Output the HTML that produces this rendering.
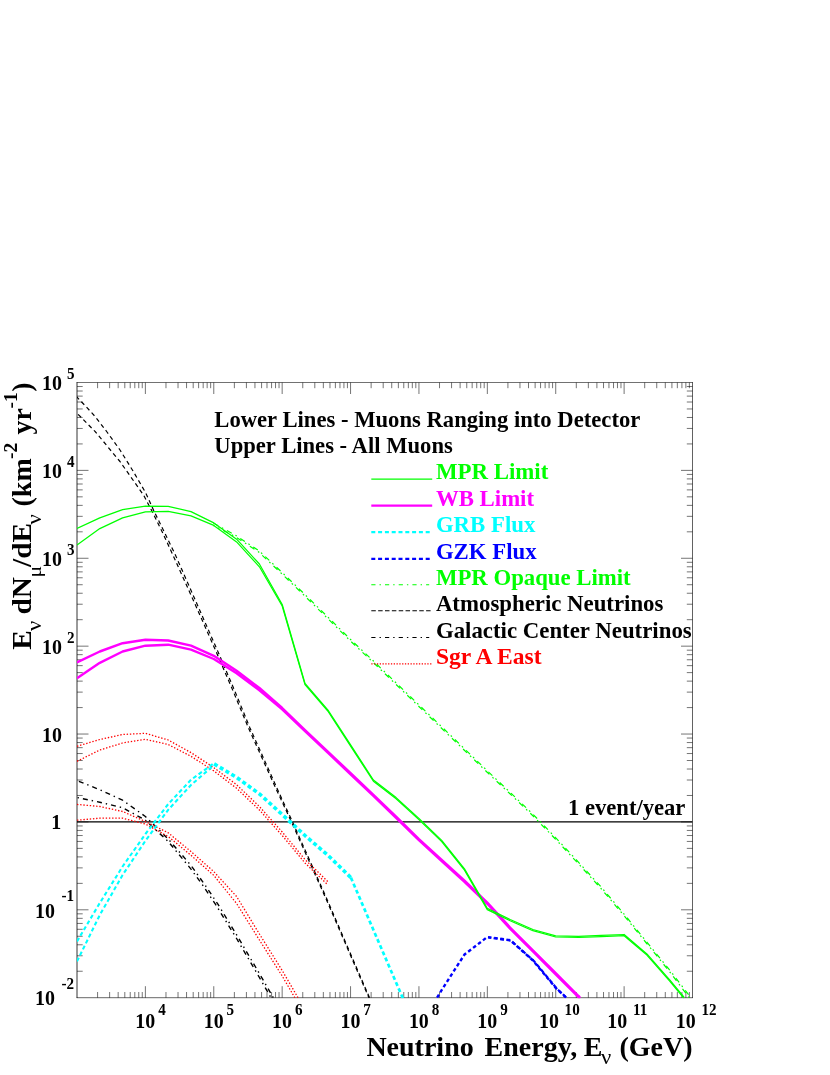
<!DOCTYPE html>
<html><head><meta charset="utf-8"><title>Neutrino flux</title>
<style>html,body{margin:0;padding:0;background:#fff;font-family:"Liberation Serif",serif}body{width:830px;height:1075px;position:relative;overflow:hidden}</style></head>
<body>
<svg width="830" height="1075" viewBox="0 0 830 1075" style="display:block;position:absolute;left:0;top:0;will-change:transform">
<rect width="830" height="1075" fill="#fff"/>
<defs><clipPath id="cp"><rect x="77.0" y="380.5" width="615.5" height="617.8000000000001"/></clipPath></defs>
<path d="M97.59,997.7v-5.7M97.59,382.5v5.7M109.63,997.7v-5.7M109.63,382.5v5.7M118.17,997.7v-5.7M118.17,382.5v5.7M124.80,997.7v-5.7M124.80,382.5v5.7M130.22,997.7v-5.7M130.22,382.5v5.7M134.80,997.7v-5.7M134.80,382.5v5.7M138.76,997.7v-5.7M138.76,382.5v5.7M142.26,997.7v-5.7M142.26,382.5v5.7M145.39,997.7v-11.5M145.39,382.5v11.5M165.98,997.7v-5.7M165.98,382.5v5.7M178.02,997.7v-5.7M178.02,382.5v5.7M186.56,997.7v-5.7M186.56,382.5v5.7M193.19,997.7v-5.7M193.19,382.5v5.7M198.61,997.7v-5.7M198.61,382.5v5.7M203.18,997.7v-5.7M203.18,382.5v5.7M207.15,997.7v-5.7M207.15,382.5v5.7M210.65,997.7v-5.7M210.65,382.5v5.7M213.78,997.7v-11.5M213.78,382.5v11.5M234.36,997.7v-5.7M234.36,382.5v5.7M246.41,997.7v-5.7M246.41,382.5v5.7M254.95,997.7v-5.7M254.95,382.5v5.7M261.58,997.7v-5.7M261.58,382.5v5.7M266.99,997.7v-5.7M266.99,382.5v5.7M271.57,997.7v-5.7M271.57,382.5v5.7M275.54,997.7v-5.7M275.54,382.5v5.7M279.04,997.7v-5.7M279.04,382.5v5.7M282.17,997.7v-11.5M282.17,382.5v11.5M302.75,997.7v-5.7M302.75,382.5v5.7M314.80,997.7v-5.7M314.80,382.5v5.7M323.34,997.7v-5.7M323.34,382.5v5.7M329.97,997.7v-5.7M329.97,382.5v5.7M335.38,997.7v-5.7M335.38,382.5v5.7M339.96,997.7v-5.7M339.96,382.5v5.7M343.93,997.7v-5.7M343.93,382.5v5.7M347.43,997.7v-5.7M347.43,382.5v5.7M350.56,997.7v-11.5M350.56,382.5v11.5M371.14,997.7v-5.7M371.14,382.5v5.7M383.19,997.7v-5.7M383.19,382.5v5.7M391.73,997.7v-5.7M391.73,382.5v5.7M398.36,997.7v-5.7M398.36,382.5v5.7M403.77,997.7v-5.7M403.77,382.5v5.7M408.35,997.7v-5.7M408.35,382.5v5.7M412.32,997.7v-5.7M412.32,382.5v5.7M415.82,997.7v-5.7M415.82,382.5v5.7M418.94,997.7v-11.5M418.94,382.5v11.5M439.53,997.7v-5.7M439.53,382.5v5.7M451.57,997.7v-5.7M451.57,382.5v5.7M460.12,997.7v-5.7M460.12,382.5v5.7M466.75,997.7v-5.7M466.75,382.5v5.7M472.16,997.7v-5.7M472.16,382.5v5.7M476.74,997.7v-5.7M476.74,382.5v5.7M480.71,997.7v-5.7M480.71,382.5v5.7M484.20,997.7v-5.7M484.20,382.5v5.7M487.33,997.7v-11.5M487.33,382.5v11.5M507.92,997.7v-5.7M507.92,382.5v5.7M519.96,997.7v-5.7M519.96,382.5v5.7M528.51,997.7v-5.7M528.51,382.5v5.7M535.14,997.7v-5.7M535.14,382.5v5.7M540.55,997.7v-5.7M540.55,382.5v5.7M545.13,997.7v-5.7M545.13,382.5v5.7M549.09,997.7v-5.7M549.09,382.5v5.7M552.59,997.7v-5.7M552.59,382.5v5.7M555.72,997.7v-11.5M555.72,382.5v11.5M576.31,997.7v-5.7M576.31,382.5v5.7M588.35,997.7v-5.7M588.35,382.5v5.7M596.90,997.7v-5.7M596.90,382.5v5.7M603.52,997.7v-5.7M603.52,382.5v5.7M608.94,997.7v-5.7M608.94,382.5v5.7M613.52,997.7v-5.7M613.52,382.5v5.7M617.48,997.7v-5.7M617.48,382.5v5.7M620.98,997.7v-5.7M620.98,382.5v5.7M624.11,997.7v-11.5M624.11,382.5v11.5M644.70,997.7v-5.7M644.70,382.5v5.7M656.74,997.7v-5.7M656.74,382.5v5.7M665.29,997.7v-5.7M665.29,382.5v5.7M671.91,997.7v-5.7M671.91,382.5v5.7M677.33,997.7v-5.7M677.33,382.5v5.7M681.91,997.7v-5.7M681.91,382.5v5.7M685.87,997.7v-5.7M685.87,382.5v5.7M689.37,997.7v-5.7M689.37,382.5v5.7M77.0,971.24h5.7M692.5,971.24h-5.7M77.0,955.77h5.7M692.5,955.77h-5.7M77.0,944.79h5.7M692.5,944.79h-5.7M77.0,936.27h5.7M692.5,936.27h-5.7M77.0,929.31h5.7M692.5,929.31h-5.7M77.0,923.43h5.7M692.5,923.43h-5.7M77.0,918.33h5.7M692.5,918.33h-5.7M77.0,913.84h5.7M692.5,913.84h-5.7M77.0,909.81h11.5M692.5,909.81h-11.5M77.0,883.36h5.7M692.5,883.36h-5.7M77.0,867.88h5.7M692.5,867.88h-5.7M77.0,856.90h5.7M692.5,856.90h-5.7M77.0,848.38h5.7M692.5,848.38h-5.7M77.0,841.43h5.7M692.5,841.43h-5.7M77.0,835.54h5.7M692.5,835.54h-5.7M77.0,830.45h5.7M692.5,830.45h-5.7M77.0,825.95h5.7M692.5,825.95h-5.7M77.0,821.93h11.5M692.5,821.93h-11.5M77.0,795.47h5.7M692.5,795.47h-5.7M77.0,780.00h5.7M692.5,780.00h-5.7M77.0,769.02h5.7M692.5,769.02h-5.7M77.0,760.50h5.7M692.5,760.50h-5.7M77.0,753.54h5.7M692.5,753.54h-5.7M77.0,747.66h5.7M692.5,747.66h-5.7M77.0,742.56h5.7M692.5,742.56h-5.7M77.0,738.06h5.7M692.5,738.06h-5.7M77.0,734.04h11.5M692.5,734.04h-11.5M77.0,707.59h5.7M692.5,707.59h-5.7M77.0,692.11h5.7M692.5,692.11h-5.7M77.0,681.13h5.7M692.5,681.13h-5.7M77.0,672.61h5.7M692.5,672.61h-5.7M77.0,665.65h5.7M692.5,665.65h-5.7M77.0,659.77h5.7M692.5,659.77h-5.7M77.0,654.67h5.7M692.5,654.67h-5.7M77.0,650.18h5.7M692.5,650.18h-5.7M77.0,646.16h11.5M692.5,646.16h-11.5M77.0,619.70h5.7M692.5,619.70h-5.7M77.0,604.23h5.7M692.5,604.23h-5.7M77.0,593.24h5.7M692.5,593.24h-5.7M77.0,584.73h5.7M692.5,584.73h-5.7M77.0,577.77h5.7M692.5,577.77h-5.7M77.0,571.89h5.7M692.5,571.89h-5.7M77.0,566.79h5.7M692.5,566.79h-5.7M77.0,562.29h5.7M692.5,562.29h-5.7M77.0,558.27h11.5M692.5,558.27h-11.5M77.0,531.82h5.7M692.5,531.82h-5.7M77.0,516.34h5.7M692.5,516.34h-5.7M77.0,505.36h5.7M692.5,505.36h-5.7M77.0,496.84h5.7M692.5,496.84h-5.7M77.0,489.88h5.7M692.5,489.88h-5.7M77.0,484.00h5.7M692.5,484.00h-5.7M77.0,478.90h5.7M692.5,478.90h-5.7M77.0,474.41h5.7M692.5,474.41h-5.7M77.0,470.39h11.5M692.5,470.39h-11.5M77.0,443.93h5.7M692.5,443.93h-5.7M77.0,428.45h5.7M692.5,428.45h-5.7M77.0,417.47h5.7M692.5,417.47h-5.7M77.0,408.96h5.7M692.5,408.96h-5.7M77.0,402.00h5.7M692.5,402.00h-5.7M77.0,396.11h5.7M692.5,396.11h-5.7M77.0,391.02h5.7M692.5,391.02h-5.7M77.0,386.52h5.7M692.5,386.52h-5.7" stroke="#000" stroke-width="0.55" fill="none"/>
<path d="M76.7,382.5H692.8" stroke="#000" stroke-width="0.56" fill="none"/>
<path d="M76.7,997.7H692.8" stroke="#000" stroke-width="0.6" fill="none"/>
<path d="M77.0,382.2V998.0" stroke="#000" stroke-width="0.8" fill="none"/>
<path d="M692.5,382.2V998.0" stroke="#000" stroke-width="0.62" fill="none"/>
<g clip-path="url(#cp)" fill="none" stroke-linejoin="round">
<path d="M77.0,821.9H692.5" stroke="#000" stroke-width="1.1"/>
<polyline points="213.4,523.0 236.3,535.8 259.1,550.8 281.9,572.3 304.7,594.3 327.6,616.8 350.4,639.3 373.2,660.8 396.0,682.8 418.8,704.8 441.7,726.8 464.5,748.8 487.3,770.8 510.1,792.3 533.0,814.3 555.8,837.8 578.6,862.3 601.4,887.3 624.3,914.3 647.1,942.3 669.9,970.3 690.3,997.0" stroke="#00ff00" stroke-width="1.2" stroke-dasharray="5.5 4.2 1.6 4.2" stroke-dashoffset="0"/>
<polyline points="213.4,525.4 235.9,537.0 258.7,552.0 281.5,573.5 304.3,595.5 327.2,618.0 350.0,640.5 372.8,662.0 395.6,684.0 418.4,706.0 441.3,728.0 464.1,750.0 486.9,772.0 509.7,793.5 532.6,815.5 555.4,839.0 578.2,863.5 601.0,888.5 623.9,915.5 646.7,943.5 669.5,971.5 689.2,997.7" stroke="#00ff00" stroke-width="1.2" stroke-dasharray="5.5 4.2 1.6 4.2" stroke-dashoffset="4.5"/>
<polyline points="369.5,997.7 326.0,897.0 293.0,823.0 278.0,790.5 250.0,728.0 234.8,691.0 218.4,652.7 197.0,604.0 175.4,555.0 164.5,532.5 154.2,511.6 145.7,492.8 132.4,470.0 120.0,450.0 107.0,432.0 95.0,416.4 86.0,406.5 76.8,397.0" stroke="#000" stroke-width="1.2" stroke-dasharray="4.2 3.3" stroke-dashoffset="0"/>
<polyline points="368.9,997.7 325.2,897.0 292.0,823.0 276.8,790.5 248.5,728.0 233.1,691.0 216.6,652.7 195.0,604.0 172.9,555.0 162.5,532.5 152.2,511.6 143.7,495.3 120.0,461.5 95.0,431.4 76.8,413.0" stroke="#000" stroke-width="1.2" stroke-dasharray="4.2 3.3" stroke-dashoffset="1.6"/>
<polyline points="77.0,780.6 99.8,789.7 122.6,800.2 145.4,816.5 168.2,839.0 191.0,865.4 205.3,885.4 217.9,904.2 236.6,934.8 259.4,973.6 273.3,997.7" stroke="#000" stroke-width="1.4" stroke-dasharray="5 4 1.4 4" stroke-dashoffset="-2"/>
<polyline points="77.0,797.5 99.8,802.2 122.6,807.7 145.4,820.2 168.2,841.5 191.0,869.1 202.8,885.4 215.4,904.2 236.6,938.5 259.4,977.5 271.0,997.7" stroke="#000" stroke-width="1.4" stroke-dasharray="5 4 1.4 4" stroke-dashoffset="-6"/>
<polyline points="77.0,746.3 99.8,739.5 122.6,734.5 145.4,733.3 168.2,740.0 191.0,752.6 213.8,767.6 236.6,784.7 259.4,806.5 282.2,832.0 305.0,859.5 327.8,881.5" stroke="#ff0000" stroke-width="1.3" stroke-dasharray="1.4 1.8" stroke-dashoffset="0"/>
<polyline points="77.0,761.3 99.8,750.0 122.6,743.0 145.4,739.3 168.2,744.5 191.0,756.3 213.8,770.9 236.6,788.3 259.4,810.0 282.2,835.5 305.0,863.0 327.8,884.8" stroke="#ff0000" stroke-width="1.3" stroke-dasharray="1.4 1.8" stroke-dashoffset="0"/>
<polyline points="77.0,804.4 99.8,806.5 122.6,811.5 145.4,821.5 168.2,832.8 191.0,851.6 213.8,871.6 236.6,896.5 259.4,934.0 282.2,970.5 298.0,997.7" stroke="#ff0000" stroke-width="1.3" stroke-dasharray="1.4 1.8" stroke-dashoffset="0"/>
<polyline points="77.0,820.2 99.8,818.2 122.6,818.2 145.4,824.0 168.2,836.5 191.0,855.3 213.8,875.4 236.6,903.5 259.4,940.0 282.2,976.0 294.8,997.7" stroke="#ff0000" stroke-width="1.3" stroke-dasharray="1.4 1.8" stroke-dashoffset="0"/>
<polyline points="77.0,941.4 99.8,903.0 122.6,866.5 145.4,834.0 168.2,804.1 191.0,779.8 213.8,763.3" stroke="#00ffff" stroke-width="2.1" stroke-dasharray="4 2.7" stroke-dashoffset="0"/>
<polyline points="77.0,961.4 99.8,915.0 122.6,875.0 145.4,840.8 168.2,809.8 191.0,785.0 213.8,765.3" stroke="#00ffff" stroke-width="2.1" stroke-dasharray="4 2.7" stroke-dashoffset="0"/>
<polyline points="214.1,763.9 236.9,777.6 259.7,794.1 282.5,814.8 305.3,835.8 328.1,855.4 350.9,877.6" stroke="#00ffff" stroke-width="3.6" stroke-dasharray="4 2.7" stroke-dashoffset="0"/>
<polyline points="350.9,877.6 373.7,930.6 396.4,983.3 402.9,998.3" stroke="#00ffff" stroke-width="2.7" stroke-dasharray="4 2.7" stroke-dashoffset="0"/>
<polyline points="437.1,997.7 441.7,990.0 464.5,954.5 487.3,937.0 510.1,940.1 533.0,960.5 555.8,988.0 566.2,997.7" stroke="#0000ff" stroke-width="2.4" stroke-dasharray="3.6 2.6" stroke-dashoffset="0"/>
<polyline points="488.2,937.5 511.0,940.6 533.9,961.0 556.7,988.5 567.1,998.2" stroke="#0000ff" stroke-width="2.2" stroke-dasharray="4 2.6" stroke-dashoffset="1.2"/>
<polyline points="77.0,662.3 99.8,651.5 122.6,643.2 145.4,639.7 168.2,640.5 191.0,645.7 213.8,655.8 236.6,670.8 259.4,688.0 282.2,708.0 305.0,730.0 327.8,751.5 350.6,773.2 373.4,794.9 396.1,816.6 418.9,839.1 441.7,859.9 464.5,880.6 487.3,902.6 510.1,927.5 532.9,950.4 555.7,973.2 578.5,996.0 580.0,997.4" stroke="#ff00ff" stroke-width="2.4"/>
<polyline points="77.0,678.3 99.8,662.8 122.6,651.5 145.4,645.7 168.2,644.7 191.0,649.7 213.8,659.0 236.6,673.3 259.4,690.3 282.2,709.3 305.0,731.2 327.8,752.6 350.6,774.4 373.4,796.0 396.1,817.8 418.9,840.2 441.7,861.0 464.5,881.8 487.3,903.8 510.1,928.6 532.9,951.5 555.7,974.4 578.5,997.1 580.0,998.5" stroke="#ff00ff" stroke-width="2.4"/>
<polyline points="77.0,528.4 99.8,517.9 122.6,509.6 145.4,506.1 168.2,506.3 191.0,511.6 213.8,522.9 236.6,539.2 259.4,564.0 282.2,604.5 305.0,683.5 327.8,709.8 350.6,744.9 373.4,780.0 396.1,797.6 418.9,818.4 441.7,840.4 464.5,868.9 487.3,908.4 510.1,919.5 532.9,929.5 555.7,935.8 578.5,936.3 601.3,935.4 624.1,934.5 646.9,953.9 669.7,979.9 684.0,997.1" stroke="#00ff00" stroke-width="1.25"/>
<polyline points="77.0,545.0 99.8,528.6 122.6,517.9 145.4,511.8 168.2,511.3 191.0,515.9 213.8,525.4 236.6,541.9 259.4,566.8 282.2,606.0 305.0,684.7 327.8,711.0 350.6,746.1 373.4,781.2 396.1,798.8 418.9,819.6 441.7,841.6 464.5,870.1 487.3,909.6 510.1,920.7 532.9,930.7 555.7,937.0 578.5,937.5 601.3,936.6 624.1,935.7 646.9,955.1 669.7,981.1 684.0,998.3" stroke="#00ff00" stroke-width="1.25"/>
</g>
<g fill="none">
<path d="M371.3,479.20000000000005H432.2" stroke="#00ff00" stroke-width="1.3"/>
<path d="M371.3,505.7H432.2" stroke="#ff00ff" stroke-width="2.2"/>
<path d="M371.3,532.1H432.2" stroke="#00ffff" stroke-width="2.1" stroke-dasharray="4 2.8"/>
<path d="M371.3,558.9000000000001H432.2" stroke="#0000ff" stroke-width="2.4" stroke-dasharray="4 2.8"/>
<path d="M371.3,584.8H429.2" stroke="#00ff00" stroke-width="1.1" stroke-dasharray="4.2 4 1.4 4.1"/>
<path d="M371.3,610.8H432.2" stroke="#000" stroke-width="1.1" stroke-dasharray="4.5 2.35"/>
<path d="M371.3,637.45H429.2" stroke="#000" stroke-width="1.1" stroke-dasharray="4.2 4 1.4 4.1"/>
<path d="M371.3,663.9H432.2" stroke="#ff0000" stroke-width="1.1" stroke-dasharray="1.3 1.5"/>
</g>
<g font-family="Liberation Serif, serif" font-weight="bold" font-size="22.8">
<text x="214.3" y="426.5" fill="#000" textLength="426" lengthAdjust="spacingAndGlyphs" >Lower Lines - Muons Ranging into Detector</text>
<text x="214.3" y="453.0" fill="#000" textLength="238.5" lengthAdjust="spacingAndGlyphs" >Upper Lines - All Muons</text>
<text x="435.9" y="479.3" fill="#00ff00" textLength="112.4" lengthAdjust="spacingAndGlyphs" >MPR Limit</text>
<text x="435.9" y="505.7" fill="#ff00ff" >WB Limit</text>
<text x="435.9" y="532.2" fill="#00ffff" >GRB Flux</text>
<text x="435.9" y="558.9000000000001" fill="#0000ff" >GZK Flux</text>
<text x="435.9" y="585.0" fill="#00ff00" textLength="194.8" lengthAdjust="spacingAndGlyphs" >MPR Opaque Limit</text>
<text x="435.9" y="611.0" fill="#000" textLength="227.5" lengthAdjust="spacingAndGlyphs" >Atmospheric Neutrinos</text>
<text x="435.9" y="637.7" fill="#000" textLength="255.8" lengthAdjust="spacingAndGlyphs" >Galactic Center Neutrinos</text>
<text x="435.9" y="664.2" fill="#ff0000" textLength="105.6" lengthAdjust="spacingAndGlyphs" >Sgr A East</text>
<text x="568.0" y="815.1" fill="#000" textLength="117.4" lengthAdjust="spacingAndGlyphs" >1 event/year</text>
</g>
<g font-family="Liberation Serif, serif" font-weight="bold" fill="#000">
<text transform="translate(155.29,1028.30) scale(0.955,1)" font-size="20.9" text-anchor="end">10</text>
<text transform="translate(158.19,1014.50) scale(0.956,1)" font-size="15.8">4</text>
<text transform="translate(223.68,1028.30) scale(0.955,1)" font-size="20.9" text-anchor="end">10</text>
<text transform="translate(226.58,1014.50) scale(0.956,1)" font-size="15.8">5</text>
<text transform="translate(292.07,1028.30) scale(0.955,1)" font-size="20.9" text-anchor="end">10</text>
<text transform="translate(294.97,1014.50) scale(0.956,1)" font-size="15.8">6</text>
<text transform="translate(360.46,1028.30) scale(0.955,1)" font-size="20.9" text-anchor="end">10</text>
<text transform="translate(363.36,1014.50) scale(0.956,1)" font-size="15.8">7</text>
<text transform="translate(428.84,1028.30) scale(0.955,1)" font-size="20.9" text-anchor="end">10</text>
<text transform="translate(431.74,1014.50) scale(0.956,1)" font-size="15.8">8</text>
<text transform="translate(497.23,1028.30) scale(0.955,1)" font-size="20.9" text-anchor="end">10</text>
<text transform="translate(500.13,1014.50) scale(0.956,1)" font-size="15.8">9</text>
<text transform="translate(558.92,1028.30) scale(0.955,1)" font-size="20.9" text-anchor="end">10</text>
<text transform="translate(564.62,1014.50) scale(0.956,1)" font-size="15.8">10</text>
<text transform="translate(627.31,1028.30) scale(0.955,1)" font-size="20.9" text-anchor="end">10</text>
<text transform="translate(633.01,1014.50) scale(0.956,1)" font-size="15.8">11</text>
<text transform="translate(695.70,1028.30) scale(0.955,1)" font-size="20.9" text-anchor="end">10</text>
<text transform="translate(701.40,1014.50) scale(0.956,1)" font-size="15.8">12</text>
<text transform="translate(61.90,390.20) scale(0.955,1)" font-size="20.9" text-anchor="end">10</text>
<text transform="translate(67.10,379.10) scale(0.956,1)" font-size="15.8">5</text>
<text transform="translate(61.90,478.09) scale(0.955,1)" font-size="20.9" text-anchor="end">10</text>
<text transform="translate(67.10,466.99) scale(0.956,1)" font-size="15.8">4</text>
<text transform="translate(61.90,565.97) scale(0.955,1)" font-size="20.9" text-anchor="end">10</text>
<text transform="translate(67.10,554.87) scale(0.956,1)" font-size="15.8">3</text>
<text transform="translate(61.90,653.86) scale(0.955,1)" font-size="20.9" text-anchor="end">10</text>
<text transform="translate(67.10,642.76) scale(0.956,1)" font-size="15.8">2</text>
<text transform="translate(61.90,741.74) scale(0.955,1)" font-size="20.9" text-anchor="end">10</text>
<text transform="translate(61.20,829.33) scale(0.955,1)" font-size="20.9" text-anchor="end">1</text>
<text transform="translate(55.00,917.51) scale(0.955,1)" font-size="20.9" text-anchor="end">10</text>
<text transform="translate(61.50,901.21) scale(0.956,1)" font-size="15.8">-1</text>
<text transform="translate(55.00,1005.40) scale(0.955,1)" font-size="20.9" text-anchor="end">10</text>
<text transform="translate(61.50,989.10) scale(0.956,1)" font-size="15.8">-2</text>
</g>
<g font-family="Liberation Serif, serif" font-weight="bold" font-size="28.0" fill="#000">
<text x="366.4" y="1055.5">Neutrino</text><text x="484.6" y="1055.5">Energy,</text><text x="583.7" y="1055.5">E</text>
<text transform="translate(601.0,1064.4) scale(1.08,1)" font-size="21" font-weight="normal">ν</text>
<text x="619.4" y="1055.5">(GeV)</text>
</g>
<g transform="translate(31.0,650.0) rotate(-90)" font-family="Liberation Serif, serif" font-weight="bold" font-size="28.0" fill="#000">
<text transform="translate(0.2,0) scale(1.05,1)" >E</text>
<text transform="translate(19.0,9.6) scale(1.08,1)" font-size="21" font-weight="normal">ν</text>
<text transform="translate(35.4,0) scale(1.05,1)" >dN</text>
<text transform="translate(72.6,9.6) scale(1.12,1)" font-size="19.5" font-weight="normal">μ</text>
<text transform="translate(83.0,0) scale(1.05,1)" >/dE</text>
<text transform="translate(125.6,9.6) scale(1.08,1)" font-size="21" font-weight="normal">ν</text>
<text x="143.5" y="0" >(km</text>
<text x="191.0" y="-14.5" font-size="19.6">-2</text>
<text x="215.6" y="0" >yr</text>
<text x="241.6" y="-14.5" font-size="19.6">-1</text>
<text x="258.3" y="0" >)</text>
</g>
</svg>
</body></html>
